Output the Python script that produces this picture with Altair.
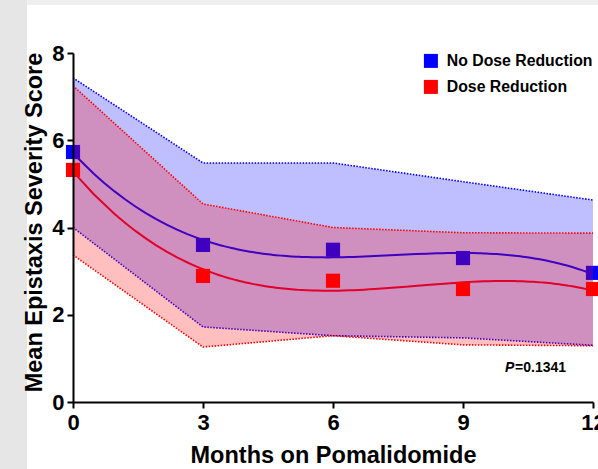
import altair as alt
import pandas as pd

months = [0, 3, 6, 9, 12]
no_dose_mean = [5.73, 3.60, 3.49, 3.30, 2.96]
no_dose_upper = [7.43, 5.48, 5.48, 5.05, 4.63]
no_dose_lower = [4.00, 1.72, 1.52, 1.47, 1.30]
dose_mean = [5.32, 2.89, 2.78, 2.59, 2.59]
dose_upper = [7.25, 4.54, 4.00, 3.88, 3.87]
dose_lower = [3.37, 1.26, 1.52, 1.31, 1.29]
series_names = ["No Dose Reduction", "Dose Reduction"]
series_colors = ["#0000ff", "#ff0000"]
line_colors = ["#0000ff", "#e0002a"]
p_text = ["P", "=0.1341"]
p_pos = [9.97, 0.78]

FONT = "Liberation Sans"

x_enc = alt.X("month:Q", scale=alt.Scale(domain=[0, 12], nice=False),
              axis=alt.Axis(values=months, title="Months on Pomalidomide", zindex=2,
                            labelFlush=False, titleFontSize=23.5, labelFontSize=22))


def y_enc(field):
    return alt.Y(f"{field}:Q", scale=alt.Scale(domain=[0, 8], nice=False),
                 axis=alt.Axis(values=[0, 2, 4, 6, 8], title="Mean Epistaxis Severity Score",
                               zindex=2, labelFlush=False, titleFontSize=23.5,
                               labelFontSize=22, titleY=169))


color_enc = alt.Color("series:N",
                      scale=alt.Scale(domain=series_names, range=series_colors),
                      legend=alt.Legend(title=None, orient="none", legendX=350, legendY=0,
                                        symbolType="square", symbolSize=196,
                                        symbolStrokeWidth=0, symbolOpacity=1,
                                        labelFont=FONT, labelFontSize=15.8,
                                        labelFontWeight="bold", labelColor="black",
                                        labelLimit=400, rowPadding=9, labelOffset=8,
                                        padding=0))


def series_layers(mean, upper, lower, name, color, lcolor):
    df = pd.DataFrame({"month": months, "mean": mean, "upper": upper,
                       "lower": lower, "series": name})
    base = alt.Chart(df)
    area = base.mark_area(color=color, opacity=0.25).encode(
        x=x_enc, y=y_enc("lower"), y2="upper:Q")
    up = base.mark_line(color=color, strokeDash=[1.5, 1.5], strokeWidth=1.6).encode(
        x=x_enc, y=y_enc("upper"))
    lo = base.mark_line(color=color, strokeDash=[1.5, 1.5], strokeWidth=1.6).encode(
        x=x_enc, y=y_enc("lower"))
    fit = base.transform_regression("month", "mean", method="poly", order=3).mark_line(
        color=lcolor, strokeWidth=2).encode(x=x_enc, y=y_enc("mean"))
    pts = base.mark_square(size=200, opacity=1, strokeWidth=0).encode(
        x=x_enc, y=y_enc("mean"), color=color_enc)
    return [area, up, lo, fit, pts]


# grey page strips around the white slide area (decoration only)
strip_left = alt.Chart(pd.DataFrame({"a": [0]})).mark_rect(color="#e6e6e6").encode(
    x=alt.value(-73), x2=alt.value(-46), y=alt.value(-53), y2=alt.value(416))
strip_top = alt.Chart(pd.DataFrame({"a": [0]})).mark_rect(color="#efefef").encode(
    x=alt.value(-46), x2=alt.value(525), y=alt.value(-53), y2=alt.value(-48))

pdf = pd.DataFrame({"month": [p_pos[0]], "mean": [p_pos[1]]})
p1 = alt.Chart(pdf).mark_text(text=p_text[0], font=FONT, fontSize=14, fontWeight="bold",
                              fontStyle="italic", align="left", baseline="middle",
                              color="black").encode(x=x_enc, y=y_enc("mean"))
p2 = alt.Chart(pdf).mark_text(text=p_text[1], font=FONT, fontSize=14, fontWeight="bold",
                              align="left", baseline="middle", dx=10,
                              color="black").encode(x=x_enc, y=y_enc("mean"))

layers = [strip_left, strip_top]
layers += series_layers(no_dose_mean, no_dose_upper, no_dose_lower,
                        series_names[0], series_colors[0], line_colors[0])
layers += series_layers(dose_mean, dose_upper, dose_lower,
                        series_names[1], series_colors[1], line_colors[1])
layers += [p1, p2]

chart = alt.layer(*layers).properties(
    width=520, height=349,
    autosize=alt.AutoSizeParams(type="none"),
    padding={"left": 73, "top": 53, "right": 5, "bottom": 67},
    background="white",
).configure_view(stroke=None).configure_axis(
    grid=False, labelFont=FONT, labelFontWeight="bold",
    labelColor="black", titleFont=FONT, titleFontWeight="bold",
    titleColor="black", domainColor="black", domainWidth=2, tickColor="black",
    tickWidth=2, tickSize=6,
).configure_axisX(labelPadding=4, titlePadding=10).configure_axisY(
    labelPadding=3, titlePadding=5)

chart.save("out.html", embed_options={"renderer": "svg", "actions": False})
